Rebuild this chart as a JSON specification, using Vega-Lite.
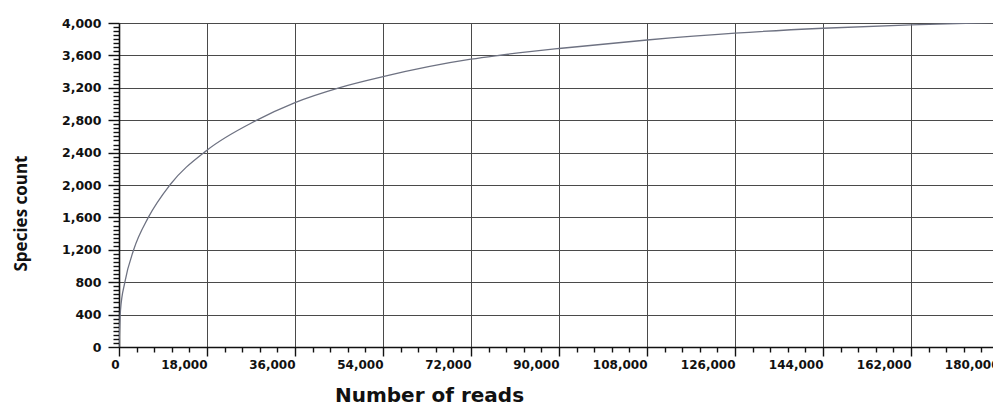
{
  "$schema": "https://vega.github.io/schema/vega-lite/v6.json",
  "autosize": {"type": "none"},
  "width": 880,
  "height": 324,
  "padding": {"left": 119, "top": 23, "right": -6, "bottom": 58},
  "background": "white",
  "config": {
    "view": {"stroke": null},
    "axis": {
      "labelFont": "DejaVu Sans",
      "labelFontWeight": "bold",
      "labelColor": "#111",
      "domainColor": "#111",
      "domainWidth": 1.6,
      "tickColor": "#111",
      "tickWidth": 1.4,
      "gridColor": "#4a4a4a",
      "gridWidth": 1,
      "labelOverlap": false
    }
  },
  "data": {
    "values": [
      {"reads": 0, "species": 0},
      {"reads": 300, "species": 450},
      {"reads": 1200, "species": 800},
      {"reads": 3000, "species": 1200},
      {"reads": 6000, "species": 1600},
      {"reads": 10400, "species": 2000},
      {"reads": 18000, "species": 2430},
      {"reads": 28000, "species": 2795},
      {"reads": 36000, "species": 3018},
      {"reads": 45000, "species": 3200},
      {"reads": 54000, "species": 3338},
      {"reads": 72000, "species": 3553},
      {"reads": 77000, "species": 3595},
      {"reads": 84000, "species": 3646},
      {"reads": 90000, "species": 3685},
      {"reads": 108000, "species": 3790},
      {"reads": 126000, "species": 3875},
      {"reads": 144000, "species": 3935},
      {"reads": 162000, "species": 3977},
      {"reads": 180000, "species": 4008}
    ]
  },
  "mark": {"type": "line", "interpolate": "monotone", "color": "#6e7282", "strokeWidth": 1.3, "clip": true},
  "encoding": {
    "x": {
      "field": "reads",
      "type": "quantitative",
      "scale": {"domain": [0, 180000], "nice": false, "zero": true},
      "axis": {
        "title": "Number of reads",
        "titleFont": "DejaVu Sans",
        "titleFontWeight": "bold",
        "titleFontSize": 20,
        "titleColor": "#111",
        "titleX": 310,
        "titleY": 54,
        "titleBaseline": "alphabetic",
        "titleAlign": "center",
        "labelFontSize": 12,
        "labelPadding": 3,
        "labelAlign": "right",
        "values": [0, 3600, 7200, 10800, 14400, 18000, 21600, 25200, 28800, 32400, 36000, 39600, 43200, 46800, 50400, 54000, 57600, 61200, 64800, 68400, 72000, 75600, 79200, 82800, 86400, 90000, 93600, 97200, 100800, 104400, 108000, 111600, 115200, 118800, 122400, 126000, 129600, 133200, 136800, 140400, 144000, 147600, 151200, 154800, 158400, 162000, 165600, 169200, 172800, 176400, 180000],
        "labelExpr": "datum.value % 18000 === 0 ? format(datum.value, ',') : ''",
        "tickSize": {"condition": {"test": "datum.value % 18000 === 0", "value": 9}, "value": 5},
        "gridOpacity": {"condition": {"test": "datum.value % 18000 === 0", "value": 1}, "value": 0},
        "grid": true
      }
    },
    "y": {
      "field": "species",
      "type": "quantitative",
      "scale": {"domain": [0, 4000], "nice": false},
      "axis": {
        "title": "Species count",
        "titleFont": "Open Sans",
        "titleFontWeight": "bold",
        "titleFontSize": 17,
        "titleColor": "#111",
        "titleAngle": -90,
        "titleX": -93,
        "titleY": 190,
        "titleBaseline": "alphabetic",
        "titleAlign": "center",
        "labelFontSize": 12.5,
        "labelPadding": 7,
        "tickCount": 80,
        "labelExpr": "datum.value % 400 === 0 ? format(datum.value, ',') : ''",
        "tickSize": {"condition": {"test": "datum.value % 400 === 0", "value": 11}, "value": 6},
        "gridOpacity": {"condition": {"test": "datum.value % 400 === 0", "value": 1}, "value": 0},
        "grid": true
      }
    }
  }
}
